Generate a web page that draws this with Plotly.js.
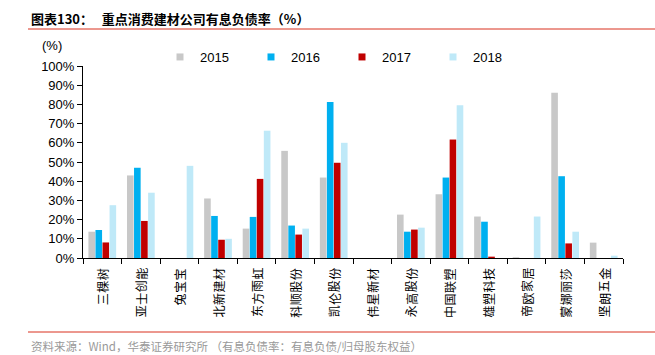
<!DOCTYPE html>
<html><head><meta charset="utf-8">
<script src="https://cdn.plot.ly/plotly-3.0.1.min.js"></script>
<style>html,body{margin:0;padding:0;background:#fff;}#c{width:655px;height:355px;}</style>
</head><body><div id="c"></div>
<script>
const categories = ["三棵树","亚士创能","兔宝宝","北新建材","东方雨虹","科顺股份","凯伦股份","伟星新材","永高股份","中国联塑","雄塑科技","帝欧家居","蒙娜丽莎","坚朗五金"];
const years = ["2015","2016","2017","2018"];
const v2015 = [13.7, 43.0, 0, 31.0, 15.3, 55.8, 41.9, 0, 22.6, 33.2, 21.6, 0.4, 86.1, 8.0];
const v2016 = [14.6, 47.0, 0, 21.9, 21.4, 16.9, 81.2, 0, 13.7, 41.9, 18.9, 0, 42.6, 0];
const v2017 = [8.1, 19.3, 0, 9.5, 41.2, 12.2, 49.6, 0, 14.8, 61.7, 0.7, 0, 7.6, 0];
const v2018 = [27.5, 34.0, 48.0, 10.0, 66.3, 15.3, 60.0, 0, 15.8, 79.5, 0, 21.6, 13.7, 1.2];
const yTickVals = [0,10,20,30,40,50,60,70,80,90,100];
const yTickText = yTickVals.map(v => v + "%");
const colors = ["#c8c8c8", "#00b0f0", "#c00000", "#bfe9f8"];
const series = [v2015, v2016, v2017, v2018];

const traces = [];
series.forEach((vals, i) => {
  traces.push({type: "bar", x: categories, y: vals, name: years[i], marker: {color: colors[i]}, showlegend: false, legendgroup: years[i], hoverinfo: "skip"});
});
series.forEach((vals, i) => {
  traces.push({type: "scatter", mode: "markers", x: [null], y: [null], name: years[i], legendgroup: years[i],
    marker: {symbol: "square", size: 7, color: colors[i]}, showlegend: true});
});

const L = 83, R = 623, T = 66, B = 258, W = 655, H = 355;
const px = x => (x - L) / (R - L);
const py = y => (B - y) / (B - T);

const annotations = [
  {xref: "paper", yref: "paper", x: px(29), y: py(19), xanchor: "left", yanchor: "middle", showarrow: false,
    text: "<b>图表130：   重点消费建材公司有息负债率（%）</b>", font: {family: "Noto Sans CJK SC", size: 13, color: "#000"}},
  {xref: "paper", yref: "paper", x: px(40), y: py(45), xanchor: "left", yanchor: "middle", showarrow: false,
    text: "(%)", font: {size: 13, color: "#000"}},
  {xref: "paper", yref: "paper", x: px(29), y: py(346), xanchor: "left", yanchor: "middle", showarrow: false,
    text: "资料来源：Wind，华泰证券研究所 （有息负债率：有息负债/归母股东权益）", font: {family: "Noto Sans CJK SC", size: 11.5, color: "#999"}}
];
// category labels: rotated characters, reading bottom to top, top aligned just below the axis
categories.forEach(cat => {
  const chars = cat.split("");
  const n = chars.length;
  chars.forEach((ch, k) => {
    annotations.push({xref: "x", yref: "paper", x: cat, y: py(274 + (n - 1 - k) * 12.5),
      xanchor: "center", yanchor: "middle", showarrow: false, textangle: -90, text: ch,
      font: {family: "Noto Sans CJK SC", size: 12, color: "#000"}});
  });
});

const layout = {
  width: W, height: H,
  margin: {l: L, r: W - R, t: T, b: H - B},
  paper_bgcolor: "#fff", plot_bgcolor: "#fff",
  font: {family: "Liberation Sans, Arial, sans-serif", size: 13, color: "#000"},
  barmode: "group", bargap: 0.27, bargroupgap: 0.06,
  showlegend: true,
  legend: {orientation: "h", x: px(160), y: py(57), xanchor: "left", yanchor: "middle",
    entrywidth: 46, entrywidthmode: "pixels", itemwidth: 30, font: {size: 13, family: "Liberation Sans, Arial, sans-serif"},
    bgcolor: "rgba(0,0,0,0)", traceorder: "normal", tracegroupgap: 0},
  xaxis: {type: "category", tickmode: "array", tickvals: categories, showticklabels: false,
    tickson: "boundaries", ticks: "outside", ticklen: 5, tickcolor: "#000", tickwidth: 1,
    showline: true, linecolor: "#000", linewidth: 1, showgrid: false, zeroline: false, fixedrange: true},
  yaxis: {range: [0, 100], tickmode: "array", tickvals: yTickVals, ticktext: yTickText,
    ticks: "outside", ticklen: 5, tickcolor: "#000", showline: true, linecolor: "#000", linewidth: 1,
    showgrid: false, zeroline: false, tickfont: {size: 13, color: "#000"}, fixedrange: true},
  shapes: [
    {type: "line", xref: "paper", yref: "paper", x0: px(28), x1: px(655), y0: py(29), y1: py(29), line: {color: "#d9301e", width: 1}},
    {type: "line", xref: "paper", yref: "paper", x0: px(28), x1: px(655), y0: py(332), y1: py(332), line: {color: "#d9301e", width: 1}}
  ],
  annotations: annotations
};
Plotly.newPlot("c", traces, layout, {displayModeBar: false, staticPlot: true});
</script>
</body></html>
